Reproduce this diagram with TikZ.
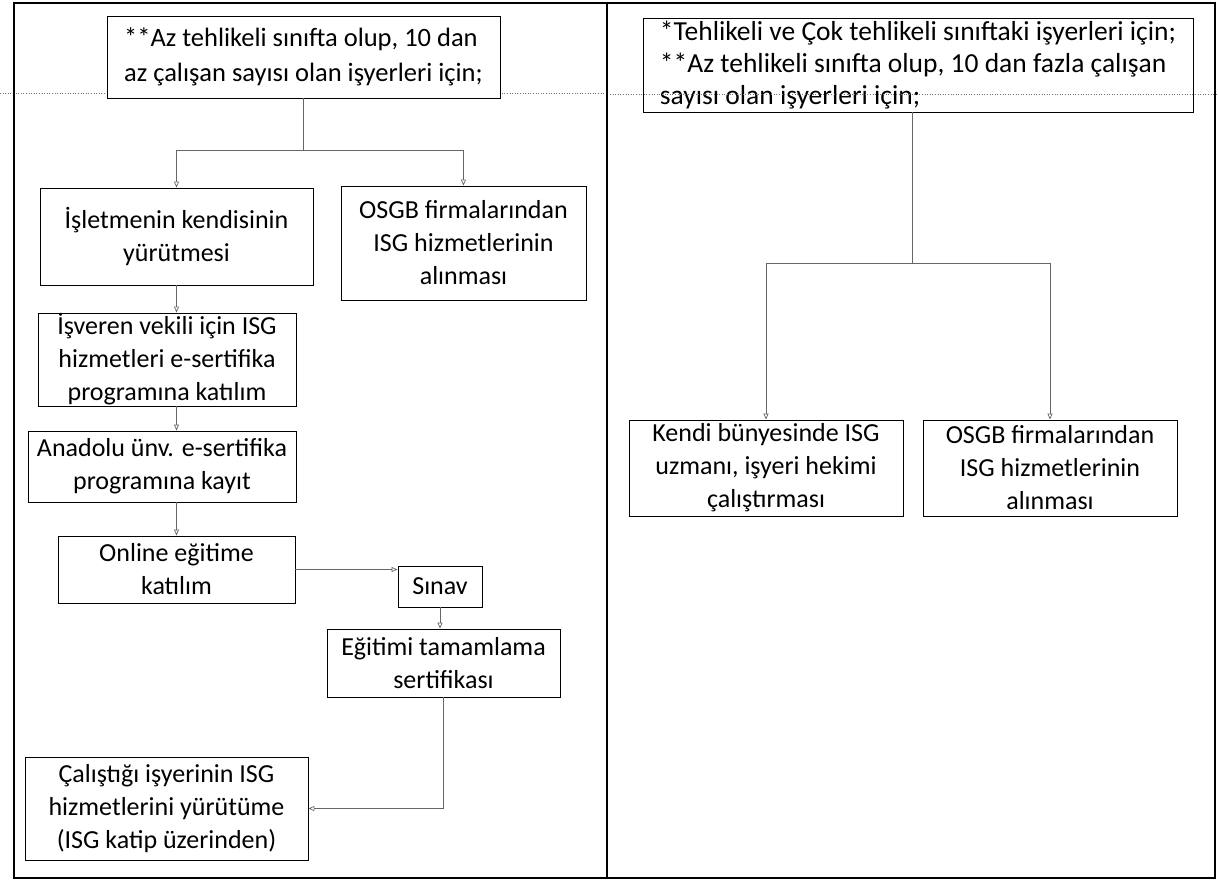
\documentclass[tikz,border=0pt]{standalone}
\usepackage{fontspec}
\setmainfont{Carlito}
\usetikzlibrary{arrows.meta}
\tikzset{
  box/.style={draw=black, line width=0.9pt, fill=white, align=center, inner sep=0pt,
    font=\fontsize{26}{33}\selectfont},
  conn/.style={draw=black!60, line width=0.7pt},
  arr/.style={conn, -{Triangle[open, length=6pt, width=5pt]}},
  frame/.style={line width=2.4pt, draw=black},
  guide/.style={draw=black!55, line width=0.6pt, dotted}
}
\begin{document}
\begin{tikzpicture}[x=1pt, y=-1pt]
\useasboundingbox (0,0) rectangle (1218,885);
\fill[white] (0,0) rectangle (1218,885);
% page guide line (left panel, behind boxes)
\draw[guide] (0,93) -- (605,93);

% left panel nodes
\node[box, align=left, minimum width=393, minimum height=82,
  font=\fontsize{26.5}{35}\selectfont] (A) at (303.5,57)
  {**Az tehlikeli sınıfta olup, 10 dan\\{}az çalışan sayısı olan işyerleri için;};
\node[box, minimum width=273, minimum height=97] (B1) at (176.5,236.5)
  {İşletmenin kendisinin\\yürütmesi};
\node[box, minimum width=245, minimum height=114] (B2) at (463.5,243)
  {OSGB firmalarından\\ISG hizmetlerinin\\alınması};
\node[box, minimum width=258, minimum height=93] (C) at (167,359.5)
  {İşveren vekili için ISG\\hizmetleri e-sertifika\\programına katılım};
\node[box, minimum width=268, minimum height=71] (D) at (162,466.5)
  {Anadolu ünv. e-sertifika\\programına kayıt};
\node[box, minimum width=237, minimum height=67] (E) at (176.5,569.5)
  {Online eğitime\\katılım};
\node[box, minimum width=84, minimum height=41] (F) at (440,586.5)
  {Sınav};
\node[box, minimum width=233, minimum height=68] (G) at (443.5,663)
  {Eğitimi tamamlama\\sertifikası};
\node[box, minimum width=283, minimum height=103] (H) at (166.5,808.5)
  {Çalıştığı işyerinin ISG\\hizmetlerini yürütüme\\(ISG katip üzerinden)};

% right panel nodes
\node[box, align=left, minimum width=550, minimum height=94,
  font=\fontsize{27.5}{32}\selectfont] (RT) at (918,65)
  {*Tehlikeli ve Çok tehlikeli sınıftaki işyerleri için;\\{}**Az tehlikeli sınıfta olup, 10 dan fazla çalışan\\{}sayısı olan işyerleri için;};
\node[box, minimum width=274, minimum height=96] (K) at (766,468)
  {Kendi bünyesinde ISG\\uzmanı, işyeri hekimi\\çalıştırması};
\node[box, minimum width=254, minimum height=96] (L) at (1050,468)
  {OSGB firmalarından\\ISG hizmetlerinin\\alınması};

% guide line across right panel (visible through box)
\draw[guide] (610,94) -- (1218,94);

% left connectors
\coordinate (a1) at (303,150);
\draw[conn] (A.south -| a1) -- (a1);
\draw[conn] (B1.north |- a1) -- (B2.north |- a1);
\draw[arr] (B1.north |- a1) -- (B1.north);
\draw[arr] (B2.north |- a1) -- (B2.north);
\draw[arr] (B1.south) -- (B1.south |- C.north);
\draw[arr] (C.south -| B1.south) -- (D.north -| B1.south);
\draw[arr] (D.south -| E.north) -- (E.north);
\draw[arr] (E.east) -- (F.west |- E.east);
\draw[arr] (F.south) -- (F.south |- G.north);
\draw[arr] (G.south) |- (H.east);

% right connectors
\coordinate (r1) at (912,263);
\draw[conn] (RT.south -| r1) -- (r1);
\draw[conn] (K.north |- r1) -- (L.north |- r1);
\draw[arr] (K.north |- r1) -- (K.north);
\draw[arr] (L.north |- r1) -- (L.north);

% frame
\draw[frame] (14,3) rectangle (1215,878);
\draw[frame] (607,3) -- (607,878);
\end{tikzpicture}
\end{document}
